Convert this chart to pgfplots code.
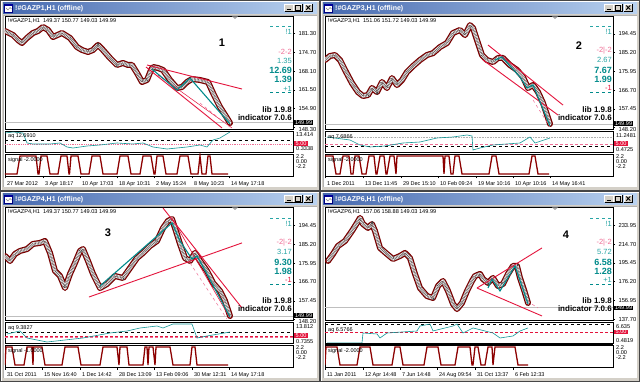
\documentclass[border=0pt]{standalone}
\usepackage{pgfplots}
\pgfplotsset{compat=1.18}
\usepackage{pgfplotstable}
\usepackage{fontspec}
\setmainfont{Liberation Sans}
\definecolor{winbg}{RGB}{212,208,200}
\definecolor{band}{RGB}{120,0,0}
\definecolor{tealc}{RGB}{0,139,139}
\definecolor{tealL}{RGB}{40,165,165}
\definecolor{trend}{RGB}{228,20,60}
\definecolor{pinkd}{RGB}{240,110,150}
\definecolor{titleL}{RGB}{70,105,175}
\definecolor{titleR}{RGB}{185,210,240}
\definecolor{indteal}{RGB}{20,150,150}
\definecolor{sigc}{RGB}{140,0,0}

% ---------- main price bands (x = pixel column, y = price) ----------
\pgfplotstableread{
x y
5 182.25
13 180.84
18 179.07
22 178.01
27 179.78
33 181.55
38 182.25
43 183.67
48 182.61
53 180.13
62 181.55
70 179.78
77 176.60
82 175.54
88 174.83
93 175.54
98 177.31
103 175.54
110 172.71
117 170.24
123 170.95
128 170.24
132 170.24
137 167.41
142 164.23
147 164.94
151 168.47
153 169.53
158 169.18
163 168.47
170 164.94
177 162.11
182 162.47
187 164.23
192 165.29
200 164.94
208 164.23
213 160.35
220 155.40
227 151.51
230 149.75
}\bandA
\pgfplotstableread{
x y
5 181.5
10 183.5
15 183.96
20 181.5
25 176.57
32 170.1
38 165.7
43 163.76
48 164.25
52 167.7
57 165.7
62 170.66
67 167.7
72 172.6
77 169.18
82 171.6
87 175.6
93 178.5
100 181.5
107 183.96
113 184.9
120 187.9
127 189.9
133 194.8
140 196.3
145 193.8
150 198.7
153 197.3
157 191.3
162 183.96
167 181.5
173 180.5
178 182.5
183 182.5
190 179.0
197 176.6
203 173.1
208 167.7
213 169.2
218 165.7
223 160.3
230 149.98
}\bandB
\pgfplotstableread{
x y
5 179.4
10 176.95
15 180.4
20 181.85
27 182.8
33 185.3
40 185.8
45 186.75
50 180.9
55 172.05
60 169.6
65 163.7
70 170.6
75 176.0
80 181.85
83 182.8
88 176.95
93 170.6
100 163.7
107 165.7
115 169.6
123 168.6
130 173.5
137 178.4
143 180.9
150 184.3
157 186.75
163 193.1
168 196.6
172 197.5
175 193.1
180 185.3
185 178.4
190 176.95
195 180.9
200 176.95
207 172.05
213 166.2
220 162.3
225 157.4
230 149.99
}\bandC
\pgfplotstableread{
x y
8 197.4
13 204.5
18 212.7
25 217.8
32 228.1
37 236.3
40 241.4
43 235.2
48 231.2
52 235.2
55 228.1
60 210.7
67 204.5
73 199.4
80 202.5
85 205.6
90 200.4
95 184.1
100 169.7
107 161.5
113 159.5
118 171.8
123 176.9
128 166.7
133 153.4
137 148.2
142 154.4
147 166.7
152 176.9
155 182.0
160 184.1
163 178.9
168 174.9
173 180.0
178 171.8
183 173.8
188 184.1
193 192.3
197 192.3
200 180.0
205 164.6
208 154.4
}\bandD

\newcommand{\bandplot}[1]{%
  \addplot[band, line width=6pt, line join=round, line cap=round] table {#1};
  \addplot[gray!12, line width=3.4pt, line join=round, line cap=round] table {#1};
  \addplot[gray!55!black, line width=3.4pt, dash pattern=on 0.35pt off 1.1pt] table {#1};
  \addplot[band!70!black, line width=0.35pt, densely dotted] table {#1};
}

\pgfplotsset{
  mtbase/.style={scale only axis, width=288pt, anchor=north west, xmin=5, xmax=293,
    axis line style={line width=0.8pt}, tick style={black, line width=0.4pt}},
  mtmain/.style={mtbase, height=113pt, xtick=\empty, ytick pos=right, yticklabel pos=right,
    tick align=outside, major tick length=2pt,
    yticklabel style={font=\fontsize{5.8}{6}\selectfont,
      /pgf/number format/fixed, /pgf/number format/fixed zerofill,
      /pgf/number format/precision=2, /pgf/number format/assume math mode=true},
    extra y tick style={yticklabel style={yshift=-2pt}}},
  mtind/.style={mtbase, height=21pt, xtick=\empty, ytick=\empty},
  mtsig/.style={mtbase, height=22pt, ymin=-2.7, ymax=2.7, ytick=\empty, xtick pos=bottom,
    tick align=outside, major tick length=2.5pt,
    xticklabel style={font=\fontsize{5.5}{6}\selectfont, anchor=north west, xshift=-1.5pt, yshift=0.5pt}},
}

\newcommand{\wchrome}[3]{%
  \begin{scope}[shift={(#1,#2)}]
    \draw[gray!55!black, line width=0.5pt, fill=winbg] (0.5,0.5) rectangle (319.5,190.5);
    \draw[white, line width=0.5pt] (1.2,190) -- (1.2,1.2) -- (319,1.2);
    \shade[left color=titleL, right color=titleR] (3,2.5) rectangle (317,14);
    \fill[white] (4.5,4) rectangle (12.5,12.5);
    \draw[blue!50!black, line width=0.4pt] (4.5,4) rectangle (12.5,12.5);
    \fill[blue!60!black] (4.5,4) rectangle (12.5,5.8);
    \draw[gray, line width=0.4pt] (6,8) -- (8,10) -- (10,7.5) -- (11.5,9);
    \node[anchor=west, text=white, font=\fontsize{7}{8}\selectfont\bfseries, inner sep=0] at (15,8.4) {#3};
    \foreach \bx in {284.5,293.5,304} {
      \fill[winbg] (\bx,3.8) rectangle ++(8.5,7.6);
      \draw[white, line width=0.4pt] (\bx,11.4) -- (\bx,3.8) -- ++(8.5,0);
      \draw[black, line width=0.4pt] (\bx+8.5,3.8) -- ++(0,7.6) -- ++(-8.5,0);
    }
    \draw[black, line width=0.9pt] (286.5,9.5) -- (290.5,9.5);
    \draw[black, line width=0.5pt] (295.5,5.5) rectangle (300.5,9.8);
    \draw[black, line width=0.9pt] (306.3,5.5) -- (310.3,9.6) (306.3,9.6) -- (310.3,5.5);
    \fill[white] (3.5,15) rectangle (316.5,187);
    \draw[gray!60, line width=0.4pt] (3.5,187) -- (3.5,15) -- (316.5,15);
  \end{scope}}

\newcommand{\rt}[4]{\node[anchor=east, inner sep=0, text=#2, font=#3] at (292,#1) {#4};}

\newcommand{\wtext}[8]{%
  \begin{scope}[shift={(#1,#2)}]
    \node[anchor=west, inner sep=0, font=\fontsize{5.6}{6}\selectfont] at (8,20.5) {#3};
    \node[inner sep=0, font=\fontsize{11}{12}\selectfont\bfseries] at (#5,#6) {#4};
    \fill[gray!70] (232,16.5) -- (238,16.5) -- (235,19) -- cycle;
    #7
    \node[anchor=east, inner sep=0, font=\fontsize{8}{9}\selectfont\bfseries] at (292,110) {lib 1.9.8};
    \node[anchor=east, inner sep=0, font=\fontsize{8}{9}\selectfont\bfseries] at (292,117.8) {indicator 7.0.6};
    #8
  \end{scope}}

\begin{document}
\begin{tikzpicture}
% ---------------- background chrome ----------------
\begin{scope}[x=1pt,y=-1pt]
  \fill[winbg] (0,0) rectangle (640,382);
  \wchrome{0}{0}{!\#GAZP1,H1 (offline)}
  \wchrome{320}{0}{!\#GAZP3,H1 (offline)}
  \wchrome{0}{191}{!\#GAZP4,H1 (offline)}
  \wchrome{320}{191}{!\#GAZP6,H1 (offline)}
\end{scope}

% ================= WINDOW 1 =================
\begin{axis}[mtmain, at={(5pt,-16pt)}, ymin=147.63, ymax=187.55,
  ytick={154.90,161.50,168.10,174.70,181.30}, extra y ticks={148.30}]
  \addplot[gray!50, line width=0.4pt] coordinates {(5,149.99)(293,149.99)};
  \bandplot{\bandA}
  \addplot[trend, line width=0.9pt] coordinates {(147,170.24)(242,161.76)};
  \addplot[trend, line width=0.9pt] coordinates {(146,169.53)(222,148.0)};
  \addplot[trend, line width=0.5pt] coordinates {(158,166.7)(232,148.0)};
  \addplot[pinkd, dashed, line width=0.5pt] coordinates {(200,156.8)(230,148.3)};
  \addplot[tealc, line width=1.1pt] coordinates {(152,168.8)(177,161.4)(190,165.6)(230,149.4)};
\end{axis}
\begin{axis}[mtind, at={(5pt,-131pt)}, ymin=-2.48, ymax=17.15]
  \addplot[black, dashed, line width=0.5pt] coordinates {(5,8.74)(293,8.74)};
  \addplot[pinkd, densely dotted, line width=0.8pt] coordinates {(5,5)(293,5)};
  \addplot[indteal, line width=0.6pt] coordinates {(5,15.28)(13,16.22)(23,15.28)(27,5.93)(33,5.0)(50,5.0)(60,5.93)(67,2.19)(73,1.26)(87,3.13)(100,4.06)(117,5.93)(133,5.0)(143,5.93)(153,2.19)(167,0.32)(177,1.26)(187,2.19)(200,4.06)(207,2.19)(213,8.74)(220,10.61)(230,16.22)};
\end{axis}
\begin{axis}[mtsig, at={(5pt,-154pt)},
  xtick={5,43,80,117,154,192,229},
  xticklabels={27 Mar 2012,3 Apr 18:17,10 Apr 17:03,18 Apr 10:31,2 May 15:24,8 May 10:23,14 May 17:18}]
  \addplot[sigc, line width=1.3pt] coordinates {(5,-2.2)(17,-2.2)(20,2.2)(36,2.2)(38,-2.2)(39,-2.2)(41,2.2)(47,2.2)(50,-2.2)(58,-2.2)(61,2.2)(67,2.2)(69,-2.2)(69.5,-2.2)(71,2.2)(78,2.2)(81,-2.2)(89,-2.2)(92,2.2)(100,2.2)(103,-2.2)(117,-2.2)(120,2.2)(128,2.2)(131,-2.2)(140,-2.2)(143,2.2)(151,2.2)(154,-2.2)(155,-2.2)(157,2.2)(163,2.2)(166,-2.2)(177,-2.2)(180,2.2)(188,2.2)(191,-2.2)(198,-2.2)(200,2.2)(202,-2.2)(206,-2.2)(208,2.2)(210,2.2)(212,-2.2)(228,-2.2)};
\end{axis}

% ================= WINDOW 2 =================
\begin{axis}[mtmain, at={(325pt,-16pt)}, ymin=147.5, ymax=203.2,
  ytick={157.45,166.70,175.95,185.20,194.45}, extra y ticks={148.20}]
  \addplot[gray!50, line width=0.4pt] coordinates {(5,149.99)(293,149.99)};
  \bandplot{\bandB}
  \addplot[trend, line width=0.9pt] coordinates {(168,188.9)(243,159.3)};
  \addplot[trend, line width=0.9pt] coordinates {(163,181.5)(238,154.4)};
  \addplot[pinkd, dashed, line width=0.5pt] coordinates {(213,161.8)(230,148.5)};
  \addplot[tealc, line width=1.1pt] coordinates {(175,181.5)(182,183.0)(200,173.1)(207,167.7)(213,169.2)(230,149.0)};
\end{axis}
\begin{axis}[mtind, at={(325pt,-131pt)}, ymin=-1.25, ymax=15.15]
  \addplot[gray!60, densely dotted, line width=0.6pt] coordinates {(5,10.47)(293,10.47)};
  \addplot[pinkd, densely dashed, line width=0.6pt] coordinates {(5,5)(293,5)};
  \addplot[black, dashed, line width=0.6pt] coordinates {(5,3.0)(293,3.0)};
  \addplot[indteal, line width=0.6pt] coordinates {(7,10.47)(30,8.12)(40,4.22)(50,2.66)(65,3.44)(83,5.78)(100,6.56)(117,9.69)(133,10.47)(147,12.03)(152,11.25)(153,0.3)(160,1.88)(173,4.22)(200,5.78)(210,10.47)(215,5.78)(230,9.69)};
\end{axis}
\begin{axis}[mtsig, at={(325pt,-154pt)},
  xtick={5,43,81,118,156,193,230},
  xticklabels={1 Dec 2011,13 Dec 11:45,29 Dec 15:10,10 Feb 09:24,19 Mar 10:16,10 Apr 10:16,14 May 16:41}]
  \addplot[sigc, line width=1.3pt] coordinates {(5,2.2)(13,2.2)(16,-2.2)(20,-2.2)(23,2.2)(29,2.2)(31,-2.2)(33,-2.2)(35,2.2)(39,2.2)(42,-2.2)(46,-2.2)(49,2.2)(54,2.2)(56,-2.2)(57,-2.2)(60,2.2)(64,2.2)(66,-2.2)(67,-2.2)(70,2.2)(74,2.2)(76,-2.2)(77,2.2)(123,2.2)(124,-2.2)(125,2.2)(129,2.2)(131,-2.2)(133,-2.2)(135,2.2)(139,2.2)(142,-2.2)(169,-2.2)(172,2.2)(176,2.2)(179,-2.2)(209,-2.2)(212,2.2)(215,2.2)(218,-2.2)(229,-2.2)};
\end{axis}

% ================= WINDOW 3 =================
\begin{axis}[mtmain, at={(5pt,-207pt)}, ymin=148.03, ymax=203.4,
  ytick={157.45,166.70,175.95,185.20,194.45}, extra y ticks={148.20}]
  \addplot[gray!50, line width=0.4pt] coordinates {(5,149.99)(293,149.99)};
  \bandplot{\bandC}
  \addplot[trend, line width=0.9pt] coordinates {(89,159.3)(242,185.8)};
  \addplot[trend, line width=0.9pt] coordinates {(163,202.9)(242,153.9)};
  \addplot[trend, line width=0.6pt] coordinates {(172,198.0)(230,149.0)};
  \addplot[pinkd, dashed, line width=0.5pt] coordinates {(190,176.0)(227,148.5)};
  \addplot[tealc, line width=1.1pt] coordinates {(100,164.7)(172,195.6)(180,186.75)(192,177.9)(197,179.4)(207,170.6)(230,149.5)};
\end{axis}
\begin{axis}[mtind, at={(5pt,-322pt)}, ymin=-1.85, ymax=18.71]
  \addplot[black, dashed, line width=0.5pt] coordinates {(5,8.92)(293,8.92)};
  \addplot[trend, densely dashed, line width=0.6pt] coordinates {(5,5)(293,5)};
  \addplot[pinkd, densely dashed, line width=0.6pt] coordinates {(5,3.53)(293,3.53)};
  \addplot[indteal, line width=0.6pt] coordinates {(7,6.96)(20,9.9)(27,3.05)(47,-0.87)(83,3.05)(110,7.94)(127,9.9)(140,12.83)(157,14.79)(163,12.83)(173,16.75)(192,16.75)(197,3.05)(207,5.0)(230,8.92)};
\end{axis}
\begin{axis}[mtsig, at={(5pt,-345pt)},
  xtick={5,42,80,117,154,192,229},
  xticklabels={31 Oct 2011,15 Nov 16:40,1 Dec 14:42,28 Dec 13:09,13 Feb 09:06,30 Mar 12:31,14 May 17:18}]
  \addplot[sigc, line width=1.3pt] coordinates {(5,-2.2)(6,2.2)(12,2.2)(15,-2.2)(24,-2.2)(27,2.2)(32,2.2)(33,-2.2)(33.5,2.2)(42,2.2)(45,-2.2)(62,-2.2)(65,2.2)(78,2.2)(81,-2.2)(100,-2.2)(103,2.2)(117,2.2)(119,-2.2)(120,2.2)(127,2.2)(129,-2.2)(143,-2.2)(145,2.2)(147,2.2)(148,-2.2)(149,2.2)(153,2.2)(155,-2.2)(156,2.2)(170,2.2)(173,-2.2)(190,-2.2)(192,2.2)(195,2.2)(197,-2.2)(228,-2.2)};
\end{axis}

% ================= WINDOW 4 =================
\begin{axis}[mtmain, at={(325pt,-207pt)}, ymin=136.98, ymax=252.6,
  ytick={137.70,156.95,176.20,195.45,214.70,233.95}]
  \addplot[gray!50, line width=0.4pt] coordinates {(5,149.99)(293,149.99)};
  \bandplot{\bandD}
  \addplot[trend, line width=0.9pt] coordinates {(157,169.7)(222,210.7)};
  \addplot[trend, line width=0.9pt] coordinates {(157,169.7)(222,141.1)};
  \addplot[pinkd, dashed, line width=0.5pt] coordinates {(207,156.4)(218,149.3)};
  \addplot[tealc, line width=1.1pt] coordinates {(168,169.7)(172,178.9)(180,166.7)(195,192.3)(208,153.4)};
\end{axis}
\begin{axis}[mtind, at={(325pt,-322pt)}, ymin=1.40, ymax=8.27]
  \addplot[black, dashed, line width=0.6pt] coordinates {(5,7.62)(293,7.62)};
  \addplot[trend, densely dashed, line width=0.6pt] coordinates {(5,5)(293,5)};
  \addplot[indteal, line width=0.6pt] coordinates {(7,1.45)(42,1.45)(43,4.67)(57,4.35)(60,3.04)(67,4.67)(97,5.33)(100,6.96)(110,7.62)(113,5.33)(133,6.96)(137,7.62)(143,4.67)(153,6.31)(173,4.67)(180,3.04)(193,3.69)(200,5.33)(208,6.31)};
\end{axis}
\begin{axis}[mtsig, at={(325pt,-345pt)},
  xtick={5,43,80,117,155,193},
  xticklabels={11 Jan 2011,12 Apr 14:48,7 Jun 14:48,24 Aug 09:54,31 Oct 13:37,6 Feb 12:33}]
  \addplot[sigc, line width=1.3pt] coordinates {(5,-2.2)(6,2.2)(17,2.2)(20,-2.2)(37,-2.2)(40,2.2)(50,2.2)(53,-2.2)(72,-2.2)(75,2.2)(80,2.2)(83,-2.2)(104,-2.2)(107,2.2)(118,2.2)(121,-2.2)(135,-2.2)(138,2.2)(150,2.2)(152,-2.2)(153,-2.2)(155,2.2)(158,2.2)(161,-2.2)(165,-2.2)(168,2.2)(172,2.2)(173,-2.2)(175,2.2)(195,2.2)(198,-2.2)(208,-2.2)};
\end{axis}

% ---------------- overlays ----------------
\begin{scope}[x=1pt,y=-1pt]
\newcommand{\fs}{\fontsize{5.6}{6}\selectfont}
\newcommand{\blk}[2]{\node[anchor=west, fill=black, text=white, font=\fs, inner xsep=0.8pt, inner ysep=0.4pt] at (294,#1) {#2};}
\newcommand{\redb}[1]{\node[anchor=west, fill=trend, text=white, font=\fs, inner xsep=1.5pt, inner ysep=0.5pt] at (294,#1) {5.00};}
\newcommand{\lab}[2]{\node[anchor=west, inner sep=0, font=\fs] at (296,#1) {#2};}
\newcommand{\sigl}{\lab{157}{2.2}\lab{162}{0.00}\lab{167}{-2.2}}
% window 1
\wtext{0}{0}{!\#GAZP1,H1\ \ 149.37 150.77 149.03 149.99}{1}{222}{43}{%
  \draw[tealL, dashed, line width=0.6pt] (270,26) -- (292,26);
  \rt{32}{tealL}{\fontsize{7.5}{8}\selectfont}{!1}
  \rt{51.5}{pinkd}{\fontsize{7.5}{8}\selectfont}{-2-2}
  \rt{60.5}{tealL}{\fontsize{7.5}{8}\selectfont}{1.35}
  \rt{70}{tealc}{\fontsize{9}{10}\selectfont\bfseries}{12.69}
  \rt{79}{tealc}{\fontsize{9}{10}\selectfont\bfseries}{1.39}
  \rt{88.5}{tealL}{\fontsize{7.5}{8}\selectfont}{+1}
  \draw[tealc, dashed, line width=0.6pt] (270,92.5) -- (292,92.5);}{%
  \blk{122.5}{149.99}
  \node[anchor=west, inner sep=0, font=\fontsize{5.5}{6}\selectfont] at (8,136.5) {aq 12.6910};
  \lab{135}{13.414}\lab{149}{0.3338}\redb{143.8}
  \node[anchor=west, inner sep=0, font=\fontsize{5.5}{6}\selectfont] at (8,160) {signal -2.0000};
  \sigl}
% window 2
\wtext{320}{0}{!\#GAZP3,H1\ \ 151.06 151.72 149.03 149.99}{2}{259}{46}{%
  \draw[tealL, dashed, line width=0.6pt] (270,26) -- (292,26);
  \rt{32}{tealL}{\fontsize{7.5}{8}\selectfont}{!1}
  \rt{50.5}{pinkd}{\fontsize{7.5}{8}\selectfont}{-2|-2}
  \rt{60}{tealL}{\fontsize{7.5}{8}\selectfont}{2.67}
  \rt{70}{tealc}{\fontsize{9}{10}\selectfont\bfseries}{7.67}
  \rt{79}{tealc}{\fontsize{9}{10}\selectfont\bfseries}{1.99}
  \rt{88}{trend}{\fontsize{7.5}{8}\selectfont}{-1}
  \draw[tealc, dashed, line width=0.6pt] (270,92) -- (292,92);}{%
  \blk{123.5}{149.99}
  \node[anchor=west, inner sep=0, font=\fontsize{5.5}{6}\selectfont] at (8,137) {aq 7.6866};
  \lab{135.5}{11.2481}\lab{149.5}{0.4725}\redb{143.5}
  \node[anchor=west, inner sep=0, font=\fontsize{5.5}{6}\selectfont] at (8,160) {signal -2.0000};
  \sigl}
% window 3
\wtext{0}{191}{!\#GAZP4,H1\ \ 149.37 150.77 149.03 149.99}{3}{108}{42}{%
  \draw[tealL, dashed, line width=0.6pt] (270,27) -- (292,27);
  \rt{33}{tealL}{\fontsize{7.5}{8}\selectfont}{!1}
  \rt{52}{pinkd}{\fontsize{7.5}{8}\selectfont}{-2|-2}
  \rt{61}{tealL}{\fontsize{7.5}{8}\selectfont}{3.17}
  \rt{71}{tealc}{\fontsize{9}{10}\selectfont\bfseries}{9.30}
  \rt{80}{tealc}{\fontsize{9}{10}\selectfont\bfseries}{1.98}
  \rt{89}{trend}{\fontsize{7.5}{8}\selectfont}{-1}
  \draw[tealc, dashed, line width=0.6pt] (270,93) -- (292,93);}{%
  \blk{124.5}{149.99}
  \node[anchor=west, inner sep=0, font=\fontsize{5.5}{6}\selectfont] at (8,137) {aq 9.3827};
  \lab{136}{13.812}\lab{150.3}{0.7355}\redb{144.8}
  \node[anchor=west, inner sep=0, font=\fontsize{5.5}{6}\selectfont] at (8,160) {signal -1.0000};
  \sigl}
% window 4
\wtext{320}{191}{!\#GAZP6,H1\ \ 157.06 158.88 149.03 149.99}{4}{246}{44}{%
  \draw[tealL, dashed, line width=0.6pt] (270,27) -- (292,27);
  \rt{33}{tealL}{\fontsize{7.5}{8}\selectfont}{!1}
  \rt{52}{pinkd}{\fontsize{7.5}{8}\selectfont}{-2|-2}
  \rt{61}{tealL}{\fontsize{7.5}{8}\selectfont}{5.72}
  \rt{71}{tealc}{\fontsize{9}{10}\selectfont\bfseries}{6.58}
  \rt{80}{tealc}{\fontsize{9}{10}\selectfont\bfseries}{1.28}
  \rt{89}{tealL}{\fontsize{7.5}{8}\selectfont}{+1}
  \draw[tealc, dashed, line width=0.6pt] (270,93) -- (292,93);}{%
  \blk{117}{149.99}
  \draw[black, line width=1.6pt] (5,153) -- (293,153);
  \node[anchor=west, inner sep=0, font=\fontsize{5.5}{6}\selectfont] at (8,139) {aq 6.5766};
  \lab{135.5}{6.635}\lab{150}{0.4819}\redb{141}
  \node[anchor=west, inner sep=0, font=\fontsize{5.5}{6}\selectfont] at (8,160) {signal -2.0000};
  \sigl}
\end{scope}
\end{tikzpicture}
\end{document}
